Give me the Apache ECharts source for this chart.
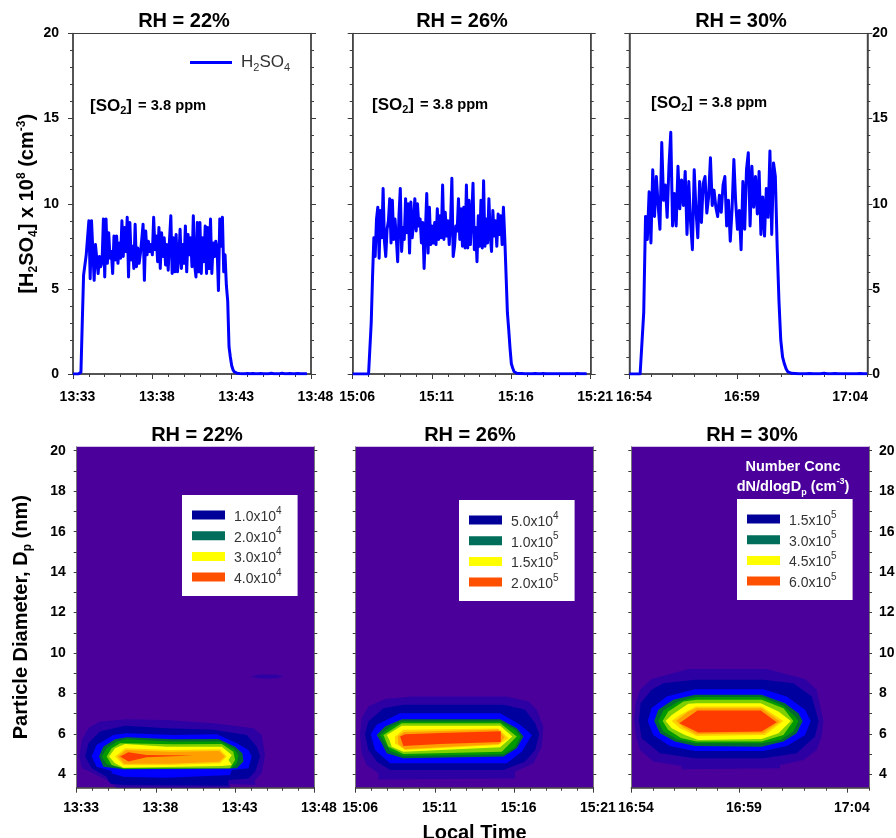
<!DOCTYPE html>
<html><head><meta charset="utf-8">
<style>html,body{margin:0;padding:0;background:#fff}#c{width:896px;height:838px}</style>
<script src="https://cdn.jsdelivr.net/npm/echarts@6/dist/echarts.min.js"></script>
</head><body><div id="c"></div>
<script>
// Sample spacing of the H2SO4 traces, in minutes after the panel start.
const sampleStepMin = 1 / 12;
const panelTitles = ['RH = 22%', 'RH = 26%', 'RH = 30%'];
const startMinutes = [13*60+33, 15*60+6, 16*60+54];
const durations = [15, 15, 11];

const h2so4_22 = [0,0,0,0,0,0,0.1,3.0,5.8,5.9,7.0,6.9,9.0,5.6,9.0,9.1,5.5,7.6,7.5,5.9,6.9,6.3,6.6,9.1,5.7,9.1,6.5,8.3,6.8,7.2,5.9,8.1,6.7,8.1,6.5,7.7,6.8,9.0,6.9,8.6,7.2,9.2,5.7,8.9,6.7,7.5,6.2,8.8,6.3,7.4,6.5,7.1,7.9,8.8,5.5,8.4,7.0,7.8,7.2,7.6,7.0,9.2,7.3,8.1,6.6,8.6,6.2,8.3,6.9,8.0,6.4,7.6,6.1,7.9,9.3,5.9,8.0,6.0,8.2,6.0,6.9,8.5,6.2,7.6,6.5,8.7,6.0,8.2,7.0,8.0,6.3,9.3,6.4,5.7,8.9,6.0,8.9,5.9,8.0,6.6,8.7,5.9,8.6,6.2,9.1,5.9,7.7,6.9,7.8,7.3,4.9,9.1,7.5,9.2,6.0,7.0,5.2,4.3,1.6,1.0,0.5,0.25,0.12,0.07,0.05,0.04,0.03,0.03,0.02,0.03,0.02,0.02,0.03,0.02,0.01,0.02,0.03,0.02,0.02,0.01,0.02,0.02,0.03,0.02,0.01,0.02,0.02,0.01,0.02,0.03,0.04,0.02,0.02,0.01,0.02,0.02,0.01,0.03,0.05,0.03,0.02,0.01,0.02,0.02,0.03,0.02,0.01,0.01,0.02,0.02,0.03,0.02,0.02,0.01,0.02,0.02,0.01,0.02];
const h2so4_26 = [0,0,0,0,0,0,0,0,0,0,0,0,0,0.1,3.0,5.7,8.0,6.9,9.1,9.8,6.8,9.6,8.0,10.9,7.8,6.9,8.5,9.0,10.3,7.7,10.2,7.9,9.1,8.0,6.6,9.3,10.9,7.2,8.6,7.9,10.3,8.3,10.0,7.1,10.1,8.0,8.9,10.3,8.4,10.0,8.7,9.1,7.7,8.9,6.2,8.4,10.6,7.1,9.8,7.6,8.7,7.7,8.9,7.6,9.7,7.9,9.3,8.0,11.1,7.9,9.5,8.1,9.0,7.6,8.9,11.5,6.9,7.5,8.7,8.4,10.3,7.9,9.7,7.5,9.8,7.4,11.1,7.4,10.2,7.6,9.2,11.2,7.3,8.6,6.6,9.3,7.5,10.2,7.4,11.35,7.5,9.1,7.7,10.3,8.2,7.2,9.6,8.1,9.0,7.5,9.4,8.2,9.3,7.6,9.8,8.0,7.9,3.6,2.6,1.5,0.6,0.35,0.15,0.08,0.05,0.04,0.03,0.02,0.03,0.02,0.02,0.01,0.02,0.03,0.02,0.01,0.02,0.02,0.03,0.02,0.01,0.01,0.02,0.02,0.03,0.02,0.02,0.01,0.02,0.03,0.02,0.01,0.02,0.02,0.01,0.02,0.02,0.03,0.02,0.01,0.02,0.01,0.02,0.03,0.02,0.01,0.02,0.02,0.01,0.02,0.03,0.02,0.02,0.01,0.02,0.02,0.01,0.02];
const h2so4_30 = [0,0,0,0,0,0,0,0.1,3.6,9.25,7.9,10.7,7.7,12.0,9.25,11.6,9.9,8.5,13.6,10.2,11.1,9.2,12.2,14.2,8.7,10.6,8.7,12.2,9.7,11.4,9.9,11.9,8.2,11.3,8.9,7.3,12.0,9.6,8.0,11.3,8.9,11.2,11.6,9.45,10.4,12.7,9.9,10.8,9.8,9.25,10.5,9.5,11.1,11.6,8.7,10.2,7.8,9.7,12.6,10.1,8.5,9.6,7.3,11.3,8.5,12.0,13.0,8.7,12.2,9.8,11.6,9.4,11.9,8.2,10.4,8.1,10.9,9.2,13.1,8.2,12.4,11.6,7.5,4.3,2.0,1.0,0.6,0.3,0.12,0.06,0.04,0.03,0.03,0.02,0.02,0.03,0.02,0.01,0.02,0.02,0.03,0.02,0.01,0.02,0.02,0.01,0.02,0.03,0.04,0.02,0.02,0.01,0.02,0.02,0.03,0.02,0.01,0.02,0.02,0.01,0.02,0.03,0.02,0.02,0.01,0.02,0.02,0.02,0.03,0.02,0.01,0.02,0.02];

const legendLabels22 = ['1.0x10^4', '2.0x10^4', '3.0x10^4', '4.0x10^4'];
const legendLabels26 = ['5.0x10^4', '1.0x10^5', '1.5x10^5', '2.0x10^5'];
const legendLabels30 = ['1.5x10^5', '3.0x10^5', '4.5x10^5', '6.0x10^5'];

// Contour bands as [minutes after start, Dp in nm], outermost first.
const c22_indigo = [[.17,4.88],[.32,5.7],[.74,6.28],[1.47,6.61],[3.16,6.73],[5.68,6.69],[8.63,6.53],[11.16,6.28],[11.68,5.95],[11.89,4.96],[11.68,4.05],[11.26,3.72],[11.26,3.47],[9.68,3.52],[9.68,3.34],[2.53,3.34],[1.89,3.72],[.84,4.13],[.32,4.3]];
const c22_navy = [[.53,4.88],[.74,5.54],[1.47,6.12],[3.05,6.4],[5.68,6.28],[8.63,6.2],[10.74,5.95],[11.37,5.37],[11.58,4.88],[11.26,4.13],[10.84,3.8],[9.58,3.72],[9.58,3.44],[2.95,3.47],[2.11,3.55],[1.89,3.88],[.95,4.3]];
const c22_blue = [[.95,4.88],[1.26,5.45],[2.32,5.95],[3.16,6.03],[6.11,5.95],[8.84,5.98],[10.11,5.54],[10.84,5.21],[11.05,4.88],[10.84,4.3],[9.79,4.21],[9.68,3.97],[5.68,3.83],[2.95,3.88],[2.21,4.05],[2.21,4.17],[1.26,4.38]];
const c22_dgreen = [[1.41,4.88],[1.68,5.37],[2.42,5.74],[3.16,5.83],[6.11,5.74],[8.95,5.75],[10,5.37],[10.46,5.04],[10.53,4.63],[10.11,4.3],[2.95,4.25],[1.68,4.38]];
const c22_green = [[1.58,4.88],[1.89,5.29],[2.53,5.62],[3.16,5.74],[5.89,5.62],[9.05,5.62],[9.89,5.29],[10.21,4.96],[10.11,4.55],[9.79,4.3],[2.95,4.26],[1.89,4.51]];
const c22_lime = [[1.89,4.88],[2.21,5.29],[2.74,5.54],[6.11,5.49],[9.16,5.5],[9.89,5.12],[10,4.71],[9.68,4.3],[2.95,4.3],[2.21,4.46]];
const c22_yellow = [[2.04,4.88],[2.42,5.29],[3.05,5.5],[5.68,5.37],[9.16,5.37],[9.79,4.96],[9.58,4.71],[9.79,4.46],[9.16,4.41],[2.95,4.33],[2.42,4.55]];
const c22_gold = [[2.42,4.88],[3.05,5.29],[5.89,5.21],[9.05,5.24],[9.47,4.88],[9.05,4.55],[5.89,4.46],[2.95,4.46]];
const c22_orange = [[2.6,4.88],[3.1,5.2],[5.89,5.12],[9.0,5.15],[9.35,4.88],[9.0,4.62],[5.89,4.53],[3,4.53]];
const c22_red = [[2.74,4.88],[3.26,5.09],[4.42,4.96],[7.37,4.93],[4.42,4.84],[3.26,4.63]];
const c22_blip = [[10.99,8.84],[11.47,8.93],[12,8.94],[12.63,8.93],[13.05,8.84],[12.63,8.76],[12,8.73],[11.47,8.76]];

const c26_indigo = [[.27,5.98],[.38,6.78],[.8,7.36],[1.85,7.72],[3.54,7.85],[9.54,7.85],[10.91,7.6],[11.43,7.19],[11.85,6.36],[11.75,5.37],[11.22,4.55],[10.06,4.13],[10.06,3.8],[1.43,3.75],[1.43,4.05],[.69,4.46],[.38,5.04]];
const c26_navy = [[.59,5.98],[.8,6.61],[1.75,7.27],[3.01,7.44],[9.33,7.44],[10.69,7.19],[11.33,6.53],[11.58,5.98],[11.33,5.21],[10.69,4.63],[9.33,4.21],[2.17,4.21],[1.33,4.63],[.8,5.21]];
const c26_blue = [[.95,5.98],[1.33,6.45],[2.8,7.02],[9.12,7.02],[10.38,6.45],[11.12,5.95],[10.48,5.12],[9.54,4.55],[2.17,4.55],[1.22,5.21]];
const c26_dgreen = [[1.33,5.95],[1.85,6.36],[2.91,6.73],[9.12,6.73],[10.17,6.28],[10.59,5.87],[10.17,5.29],[9.33,4.88],[3.01,4.79],[1.96,5.04],[1.64,5.54]];
const c26_green = [[1.54,5.95],[2.17,6.33],[2.91,6.61],[9.12,6.61],[10.06,6.2],[10.42,5.87],[10.06,5.34],[9.33,4.99],[3.01,4.91],[2.17,5.17],[1.79,5.62]];
const c26_lime = [[1.75,5.95],[2.91,6.53],[9.12,6.53],[10.17,5.87],[9.22,5.12],[3.01,5.01],[2.06,5.37]];
const c26_yellow = [[1.96,5.95],[2.91,6.4],[9.12,6.4],[9.89,5.87],[9.12,5.34],[3.01,5.12],[2.27,5.37],[2.13,5.7]];
const c26_gold = [[2.48,5.87],[3.01,6.2],[9.01,6.27],[9.64,5.79],[9.01,5.45],[3.12,5.21],[2.48,5.54]];
const c26_orange = [[2.65,5.87],[3.05,6.1],[9.0,6.22],[9.4,5.83],[9.05,5.5],[3.1,5.24],[2.7,5.5]];
const c26_red = [[2.8,5.87],[3.12,5.98],[5.33,6.05],[9.16,6.13],[9.16,5.6],[5.33,5.5],[3.01,5.4],[2.91,5.62]];

const c30_indigo = [[.14,6.64],[.2,7.52],[.4,8.18],[.94,8.71],[2.64,9.21],[6.27,9.21],[8.04,8.71],[8.58,8.18],[8.89,6.64],[8.81,5.87],[8.58,5.21],[7.96,4.71],[6.88,4.46],[6.88,4.3],[2.33,4.25],[2.33,4.41],[1.02,4.63],[.4,5.21],[.22,5.87]];
const c30_navy = [[.35,6.64],[.43,7.52],[.94,8.18],[1.48,8.51],[2.95,8.68],[6.11,8.68],[7.5,8.51],[8.35,7.85],[8.67,6.64],[8.5,5.87],[7.65,5.04],[6.11,4.79],[2.95,4.79],[1.33,5.04],[.48,5.79]];
const c30_blue = [[.76,6.64],[.94,7.27],[1.64,7.85],[2.95,8.21],[6.11,8.21],[7.19,7.85],[8.04,7.19],[8.3,6.64],[8.04,5.95],[7.19,5.4],[6.11,5.16],[2.95,5.16],[1.79,5.4],[1.02,5.95]];
const c30_dgreen = [[1.06,6.64],[1.25,7.19],[1.94,7.69],[2.95,7.93],[6.03,7.93],[7.11,7.52],[7.73,7.02],[7.93,6.64],[7.65,6.03],[7.04,5.62],[6.03,5.37],[2.95,5.4],[2.02,5.62],[1.33,6.03]];
const c30_green = [[1.25,6.64],[1.48,7.16],[2.18,7.6],[2.99,7.82],[6.03,7.82],[7.04,7.39],[7.58,6.86],[7.73,6.64],[7.5,6.12],[6.88,5.7],[6.03,5.54],[2.99,5.54],[2.1,5.74],[1.48,6.12]];
const c30_lime = [[1.45,6.64],[1.71,7.11],[2.41,7.6],[3.02,7.69],[6.03,7.69],[7.04,7.27],[7.5,6.64],[7.04,5.95],[6.03,5.62],[3.02,5.62],[2.3,5.8],[1.7,6.2]];
const c30_yellow = [[1.59,6.64],[1.87,6.94],[2.64,7.49],[3.06,7.52],[5.99,7.52],[6.81,7.11],[7.38,6.64],[6.81,6.03],[6.03,5.75],[3.1,5.7],[2.48,5.95],[1.87,6.28]];
const c30_gold = [[1.87,6.64],[2.25,6.94],[2.99,7.36],[6.03,7.36],[7.04,6.64],[6.19,5.95],[3.02,5.9],[2.25,6.28]];
const c30_orange = [[2.07,6.64],[2.64,7.11],[3.02,7.27],[6.03,7.27],[6.88,6.61],[6.11,6.03],[3.02,5.98],[2.41,6.33]];
const c30_red = [[2.22,6.53],[3.06,7.16],[5.99,7.16],[6.73,6.58],[6.03,6.12],[3.1,6.07]];

const FONT = '"Liberation Sans", Arial, sans-serif';
const AXC = '#3c3c3c';
const INK = '#000';
const BAND = {indigo:'#2c00a3', navy:'#00009f', blue:'#0000ff', dgreen:'#006a30', green:'#009a00', lime:'#80d000', yellow:'#ffff00', gold:'#ffd000', orange:'#ffa000', red:'#ff3c00'};
const LEGEND_COLORS = ['#000099','#006e5a','#ffff00','#ff5000'];
const BG = '#4b009b';
const BLOCK = [
  {indigo:c22_indigo,navy:c22_navy,blue:c22_blue,dgreen:c22_dgreen,green:c22_green,lime:c22_lime,yellow:c22_yellow,gold:c22_gold,orange:c22_orange,red:c22_red},
  {indigo:c26_indigo,navy:c26_navy,blue:c26_blue,dgreen:c26_dgreen,green:c26_green,lime:c26_lime,yellow:c26_yellow,gold:c26_gold,orange:c26_orange,red:c26_red},
  {indigo:c30_indigo,navy:c30_navy,blue:c30_blue,dgreen:c30_dgreen,green:c30_green,lime:c30_lime,yellow:c30_yellow,gold:c30_gold,orange:c30_orange,red:c30_red}
];
const legendSets = [legendLabels22, legendLabels26, legendLabels30];
const legendBandOrder = ['navy','dgreen','yellow','red'];
const traces = [h2so4_22, h2so4_26, h2so4_30];
const topBoxes = [[73,311],[352.7,590.7],[629.3,867.3]];
const botBoxes = [[76.7,314.3],[355.7,593.3],[631.3,869]];
const legendPos = [[182,495],[459,500],[737,499]];

function clock(i, v){
  const m = startMinutes[i] + v;
  return String(Math.floor(m/60)).padStart(2,'0') + ':' + String(m%60).padStart(2,'0');
}
const grid = [], xAxis = [], yAxis = [], series = [], title = [], legend = [];

function xA(gi, i, nameOpt){
  const d = durations[i];
  const majors = [0,5,10,15].filter(v=>v<=d);
  return Object.assign({
    type:'value', gridIndex:gi, position:'bottom', min:0, max:d,
    splitLine:{show:false},
    axisLine:{show:true,onZero:false,lineStyle:{color:AXC,width:1.5}},
    axisTick:{show:true,customValues:majors,length:5,lineStyle:{color:AXC,width:1}},
    axisLabel:{show:true,customValues:majors,margin:gi<3?16:13,padding:[0,0,0,9],color:INK,fontFamily:FONT,fontWeight:'bold',fontSize:14,formatter:v=>clock(i,v)}
  }, nameOpt||{});
}
function xMinor(gi, i){
  const d = durations[i];
  return {type:'value',gridIndex:gi,position:'bottom',min:0,max:d,interval:1,splitLine:{show:false},
    axisLine:{show:false,onZero:false},axisLabel:{show:false},
    axisTick:{show:true,length:3,lineStyle:{color:AXC,width:1}}};
}
function yTop(gi, pos, labels, nameOpt){
  return Object.assign({
    type:'value',gridIndex:gi,position:pos,min:0,max:20,interval:5,splitLine:{show:false},
    axisLine:{show:true,onZero:false,lineStyle:{color:AXC,width:1.5}},
    axisTick:{show:true,length:5,lineStyle:{color:AXC,width:1}},
    minorTick:{show:true,splitNumber:5,length:3,lineStyle:{color:AXC,width:1}},
    axisLabel:{show:labels,margin:pos==='left'?14:5,color:INK,fontFamily:FONT,fontWeight:'bold',fontSize:14}
  }, nameOpt||{});
}
const dpTicks = [4,5,6,7,8,9,10,11,12,13,14,15,16,17,18,19,20];
const dpLabels = [4,6,8,10,12,14,16,18,20];
function yBot(gi, pos, labels, nameOpt){
  return Object.assign({
    type:'value',gridIndex:gi,position:pos,min:3.34,max:20.2,splitLine:{show:false},
    axisLine:{show:true,onZero:false,lineStyle:{color:'#777',width:1}},
    axisTick:{show:true,customValues:dpTicks,length:3,lineStyle:{color:AXC,width:1}},
    axisLabel:{show:labels,customValues:dpLabels,margin:pos==='left'?11:10,color:INK,fontFamily:FONT,fontWeight:'bold',fontSize:14}
  }, nameOpt||{});
}
const nameRich = {
  a:{fontSize:20,fontWeight:'bold',fontFamily:FONT,color:INK,lineHeight:24,verticalAlign:'middle'},
  s:{fontSize:12,fontWeight:'bold',fontFamily:FONT,color:INK,lineHeight:24,verticalAlign:'bottom'},
  u:{fontSize:12,fontWeight:'bold',fontFamily:FONT,color:INK,lineHeight:24,verticalAlign:'top'}
};

for (let i=0;i<3;i++){
  const gt = i;
  grid.push({left:topBoxes[i][0],width:topBoxes[i][1]-topBoxes[i][0],top:33.5,height:340.5,show:true,backgroundColor:'#fff',borderColor:AXC,borderWidth:1,outerBoundsMode:'none'});
  xAxis[gt] = xA(gt,i);
  yAxis[gt*2] = yTop(gt,'left',i===0, i===0 ? {
    name:'{a|[H}{s|2}{a|SO}{s|4}{a|] x 10}{u|8}{a| (cm}{u|-3}{a|)}',
    nameLocation:'middle',nameGap:32,nameRotate:90,nameTextStyle:{rich:nameRich}
  } : {});
  yAxis[gt*2+1] = yTop(gt,'right',i===2);
  series.push({
    type:'line',name:i===0?'H2SO4':'H2SO4 '+panelTitles[i],xAxisIndex:gt,yAxisIndex:gt*2,
    data:traces[i].map((v,k)=>[k*sampleStepMin,v]),showSymbol:false,symbol:'none',
    lineStyle:{color:'#0000ff',width:3,join:'round'},itemStyle:{color:'#0000ff'},animation:false,silent:true,z:3
  });
}
for (let i=0;i<3;i++){
  const gb = i+3;
  grid.push({left:botBoxes[i][0],width:botBoxes[i][1]-botBoxes[i][0],top:446.7,height:341,show:true,backgroundColor:BG,borderWidth:0,outerBoundsMode:'none'});
  xAxis[gb] = xA(gb,i, i===1 ? {name:'Local Time',nameLocation:'middle',nameGap:36,nameTextStyle:{fontFamily:FONT,fontWeight:'bold',fontSize:20,color:INK}} : {});
  yAxis[gb*2] = yBot(gb,'left',i===0, i===0 ? {
    name:'{a|Particle Diameter, D}{s|p}{a| (nm)}',
    nameLocation:'middle',nameGap:43,nameRotate:90,nameTextStyle:{rich:nameRich}
  } : {});
  yAxis[gb*2+1] = yBot(gb,'right',i===2);
  const labels = legendSets[i];
  Object.keys(BAND).forEach(k=>{
    const pts = BLOCK[i][k];
    const li = legendBandOrder.indexOf(k);
    const color = BAND[k];
    series.push({
      type:'custom',name:li>=0?labels[li]:(k+' '+panelTitles[i]),coordinateSystem:'cartesian2d',
      xAxisIndex:gb,yAxisIndex:gb*2,data:pts,encode:{x:0,y:1},itemStyle:{color},silent:true,animation:false,clip:true,
      renderItem:(p,api)=>p.dataIndex===0?{type:'polygon',shape:{points:pts.map(q=>api.coord(q))},style:{fill:color}}:null
    });
  });
  legend.push({
    show:true,orient:'vertical',left:legendPos[i][0],top:legendPos[i][1],selectedMode:false,
    backgroundColor:'#fff',padding:[11,16,10,10],itemWidth:33,itemHeight:9,itemGap:2.7,icon:'rect',align:'left',
    data:labels.map((n,k)=>({name:n,icon:'rect',itemStyle:{color:LEGEND_COLORS[k],borderWidth:0}})),
    formatter:n=>{const s=n.split('^');return '{b|'+s[0]+'}{e|'+s[1]+'}';},
    textStyle:{rich:{
      b:{fontSize:14,fontFamily:FONT,color:'#333',lineHeight:18,verticalAlign:'bottom',padding:[0,0,0,4]},
      e:{fontSize:10,fontFamily:FONT,color:'#333',lineHeight:18,verticalAlign:'top'}
    }}
  });
}
// small patch above the main plume at RH = 22%
series.push({type:'custom',name:'patch',coordinateSystem:'cartesian2d',xAxisIndex:3,yAxisIndex:6,data:c22_blip,encode:{x:0,y:1},silent:true,animation:false,
  renderItem:(p,api)=>p.dataIndex===0?{type:'polygon',shape:{points:c22_blip.map(q=>api.coord(q))},style:{fill:BAND.indigo}}:null});

[0,1,2].forEach(i=>{xAxis.push(xMinor(i,i));xAxis.push(xMinor(i+3,i));});

legend.push({
  show:true,left:190,top:54,padding:0,selectedMode:false,icon:'rect',itemWidth:42,itemHeight:3,itemGap:8,
  data:[{name:'H2SO4',itemStyle:{color:'#0000ff'}}],
  formatter:()=>'{h|H}{s|2}{b|SO}{s|4}',
  textStyle:{rich:{
    h:{fontSize:17,fontFamily:FONT,color:'#333',lineHeight:22,verticalAlign:'middle',padding:[0,0,0,4]},
    b:{fontSize:17,fontFamily:FONT,color:'#333',lineHeight:22,verticalAlign:'middle'},
    s:{fontSize:11,fontFamily:FONT,color:'#333',lineHeight:22,verticalAlign:'bottom'}
  }}
});

const titleCx = [184,462,741,197,470,752];
const titleCy = [11,11,11,425,425,425];
titleCx.forEach((x,k)=>title.push({text:panelTitles[k%3],left:x,top:titleCy[k],textAlign:'center',padding:0,
  textStyle:{fontFamily:FONT,fontWeight:'bold',fontSize:20,color:INK}}));
const so2Rich = {
  a:{fontSize:17,fontWeight:'bold',fontFamily:FONT,color:INK,lineHeight:20,verticalAlign:'middle'},
  s:{fontSize:11,fontWeight:'bold',fontFamily:FONT,color:INK,lineHeight:20,verticalAlign:'bottom'},
  t:{fontSize:14.7,fontWeight:'bold',fontFamily:FONT,color:INK,lineHeight:20,verticalAlign:'middle',padding:[0,0,0,1]}
};
[[90,96],[372,95],[651,93]].forEach(p=>title.push({text:'{a|[SO}{s|2}{a|]} {t|= 3.8 ppm}',left:p[0],top:p[1],padding:0,textStyle:{rich:so2Rich}}));
const whiteRich = {
  a:{fontSize:14.5,fontWeight:'bold',fontFamily:FONT,color:'#fff',lineHeight:20,verticalAlign:'middle'},
  s:{fontSize:9,fontWeight:'bold',fontFamily:FONT,color:'#fff',lineHeight:20,verticalAlign:'bottom'},
  u:{fontSize:9,fontWeight:'bold',fontFamily:FONT,color:'#fff',lineHeight:20,verticalAlign:'top'}
};
title.push({text:'{a|Number Conc}\n{a|dN/dlogD}{s|p}{a| (cm}{u|-3}{a|)}',left:793,top:457,textAlign:'center',padding:0,textStyle:{align:'center',rich:whiteRich}});

const chart = echarts.init(document.getElementById('c'),null,{renderer:'canvas'});
chart.setOption({animation:false,backgroundColor:'#fff',grid,xAxis,yAxis,series,title,legend,tooltip:{show:false}});
</script></body></html>
